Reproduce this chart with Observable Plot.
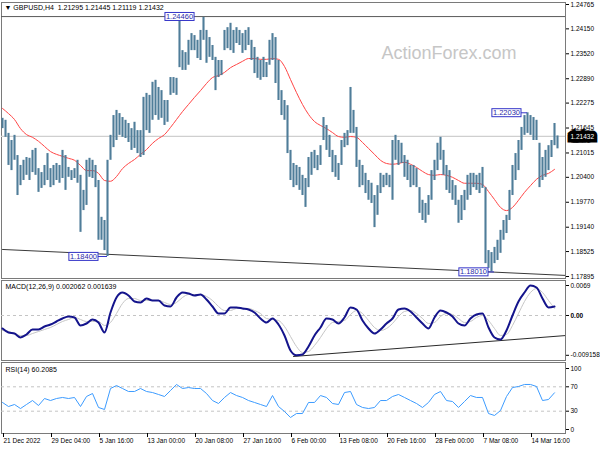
<!DOCTYPE html>
<html><head><meta charset="utf-8">
<script src="https://cdn.jsdelivr.net/npm/d3@7"></script>
<script src="https://cdn.jsdelivr.net/npm/@observablehq/plot@0.6"></script>
<style>
body{margin:0;background:#fff;}
#chart{position:relative;width:600px;height:450px;overflow:hidden;background:#fff;}
#chart svg{position:absolute;left:0;}
</style></head><body><div id="chart"></div>
<script>
// ---- H4 bars (every second bar), high / low ----
const barHigh = [1.2189,1.2184,1.2151,1.2133,1.2146,1.2095,1.2070,1.2083,1.2090,1.2088,
1.2108,1.2113,1.2062,1.2052,1.2070,1.2100,1.2062,1.2070,1.2075,1.2070,
1.2108,1.2095,1.2065,1.2057,1.2062,1.2083,1.2045,1.2007,1.2083,1.2088,
1.2083,1.2070,1.2032,1.1939,1.1931,1.2083,1.2146,1.2196,1.2209,1.2201,
1.2191,1.2184,1.2176,1.2163,1.2179,1.2158,1.2158,1.2242,1.2252,1.2247,
1.2280,1.2285,1.2267,1.2259,1.2234,1.2234,1.2292,1.2292,1.2290,1.2446,
1.2360,1.2355,1.2386,1.2403,1.2398,1.2386,1.2411,1.2444,1.2411,1.2393,
1.2373,1.2343,1.2335,1.2335,1.2411,1.2418,1.2429,1.2411,1.2418,1.2411,
1.2403,1.2411,1.2418,1.2386,1.2368,1.2343,1.2335,1.2343,1.2330,1.2386,
1.2403,1.2393,1.2335,1.2259,1.2234,1.2221,1.2108,1.2075,1.2070,1.2065,
1.2045,1.2037,1.2090,1.2103,1.2108,1.2095,1.2120,1.2191,1.2171,1.2146,
1.2108,1.2095,1.2075,1.2133,1.2151,1.2158,1.2267,1.2209,1.2166,1.2083,
1.2070,1.2050,1.2032,1.2025,1.1994,1.2019,1.2050,1.2045,1.2050,1.2045,
1.2133,1.2146,1.2133,1.2126,1.2095,1.2083,1.2070,1.2070,1.2062,1.2014,
1.1982,1.1974,1.1994,1.2057,1.2083,1.2126,1.2141,1.2108,1.2070,1.2057,
1.2032,1.2019,1.1982,1.1994,1.2007,1.2045,1.2050,1.2050,1.2045,1.2050,
1.2065,1.2014,1.1855,1.1850,1.1863,1.1881,1.1906,1.1931,1.1944,1.2007,
1.2070,1.2100,1.2133,1.2166,1.2196,1.2203,1.2196,1.2191,1.2184,1.2126,
1.2090,1.2108,1.2120,1.2133,1.2176,1.21445];
const barLow = [1.2163,1.2141,1.2070,1.2057,1.2083,1.1994,1.2019,1.2032,1.2045,1.2032,
1.2052,1.2045,1.2002,1.2012,1.2019,1.2032,1.2014,1.2019,1.2032,1.2025,
1.2037,1.2007,1.2040,1.2032,1.2037,1.2025,1.1901,1.1956,1.1969,1.2040,
1.2037,1.2014,1.1881,1.1881,1.1855,1.1840,1.2083,1.2115,1.2133,1.2146,
1.2141,1.2138,1.2128,1.2108,1.2113,1.2100,1.2090,1.2095,1.2158,1.2151,
1.2184,1.2196,1.2184,1.2189,1.2171,1.2179,1.2247,1.2252,1.2247,1.2317,
1.2310,1.2310,1.2323,1.2360,1.2360,1.2340,1.2335,1.2386,1.2328,1.2343,
1.2335,1.2259,1.2292,1.2297,1.2360,1.2365,1.2360,1.2353,1.2378,1.2373,
1.2353,1.2360,1.2373,1.2335,1.2302,1.2290,1.2285,1.2292,1.2292,1.2323,
1.2335,1.2277,1.2234,1.2196,1.2184,1.2100,1.2032,1.2014,1.2019,1.2007,
1.1994,1.1964,1.2014,1.2045,1.2062,1.2057,1.2070,1.2133,1.2108,1.2090,
1.2052,1.2040,1.2032,1.2070,1.2115,1.2120,1.2151,1.2151,1.2065,1.2014,
1.2019,1.1999,1.1982,1.1974,1.1913,1.1944,1.1999,1.2014,1.2019,1.2014,
1.1982,1.2083,1.2070,1.2075,1.2040,1.2032,1.2014,1.2019,1.2014,1.1949,
1.1931,1.1924,1.1944,1.1982,1.2032,1.2057,1.2083,1.2045,1.2007,1.1999,
1.1982,1.1969,1.1924,1.1931,1.1956,1.1982,1.1994,1.2014,1.2007,1.1999,
1.2012,1.1822,1.1810,1.1801,1.1822,1.1830,1.1848,1.1881,1.1898,1.1931,
1.1994,1.2032,1.2057,1.2108,1.2146,1.2151,1.2146,1.2133,1.2133,1.2014,
1.2032,1.2040,1.2057,1.2090,1.2120,1.21119];

// ---- indicators, one value every two plotted bars ----
const maVals = [1.2214,1.2201,1.2186,1.2163,1.2148,1.2141,1.2131,1.2118,1.2105,1.2098,
1.2093,1.2088,1.2083,1.2070,1.2057,1.2057,1.2050,1.2032,1.2030,1.2042,
1.2062,1.2075,1.2085,1.2098,1.2110,1.2126,1.2138,1.2148,1.2166,1.2186,
1.2206,1.2224,1.2242,1.2259,1.2277,1.2292,1.2297,1.2305,1.2317,1.2325,
1.2333,1.2340,1.2340,1.2338,1.2338,1.2340,1.2338,1.2320,1.2287,1.2254,
1.2224,1.2199,1.2181,1.2171,1.2163,1.2153,1.2143,1.2141,1.2143,1.2141,
1.2128,1.2113,1.2098,1.2083,1.2075,1.2073,1.2075,1.2078,1.2073,1.2065,
1.2055,1.2047,1.2045,1.2047,1.2045,1.2040,1.2032,1.2025,1.2025,1.2025,
1.2022,1.2004,1.1984,1.1964,1.1956,1.1964,1.1982,1.2002,1.2019,1.2035,
1.2045,1.2050,1.2060];
const macdVals = [-0.00299,-0.00391,-0.00414,-0.00506,-0.00437,-0.00322,-0.00322,-0.00253,-0.00207,-0.00138,
-0.00069,-0.00023,-0.00046,-0.00230,-0.00184,-0.00092,-0.00161,-0.00391,0.00069,0.00414,
0.00529,0.00460,0.00322,0.00299,0.00391,0.00345,0.00345,0.00230,0.00207,0.00414,
0.00529,0.00506,0.00460,0.00483,0.00368,0.00207,0.00046,0.00046,0.00184,0.00184,
0.00161,0.00138,0.00069,-0.00069,-0.00161,-0.00069,-0.00207,-0.00460,-0.00805,-0.00915,
-0.00897,-0.00713,-0.00460,-0.00276,-0.00069,-0.00092,-0.00184,-0.00046,0.00184,0.00138,
-0.00115,-0.00299,-0.00414,-0.00322,-0.00184,-0.00069,0.00138,0.00161,0.00092,-0.00046,
-0.00184,-0.00299,-0.00046,0.00115,0.00069,-0.00023,-0.00184,-0.00230,-0.00069,0.00023,
0.00046,-0.00276,-0.00506,-0.00552,-0.00345,0,0.00322,0.00529,0.00690,0.00644,
0.00391,0.00184,0.00206];
const signalVals = [-0.00345,-0.00368,-0.00414,-0.00460,-0.00460,-0.00414,-0.00368,-0.00322,-0.00276,-0.00207,
-0.00138,-0.00092,-0.00046,-0.00092,-0.00138,-0.00138,-0.00138,-0.00230,-0.00161,0.00046,
0.00276,0.00391,0.00391,0.00345,0.00345,0.00345,0.00345,0.00299,0.00253,0.00299,
0.00414,0.00483,0.00483,0.00483,0.00437,0.00345,0.00207,0.00115,0.00115,0.00161,
0.00161,0.00161,0.00115,0.00046,-0.00069,-0.00092,-0.00115,-0.00253,-0.00483,-0.00713,
-0.00851,-0.00828,-0.00690,-0.00506,-0.00299,-0.00161,-0.00138,-0.00115,0.00023,0.00115,
0.00046,-0.00115,-0.00276,-0.00345,-0.00299,-0.00184,-0.00023,0.00092,0.00115,0.00046,
-0.00069,-0.00184,-0.00161,-0.00023,0.00046,0.00023,-0.00069,-0.00161,-0.00138,-0.00046,
0,-0.00115,-0.00299,-0.00460,-0.00437,-0.00230,0.00046,0.00322,0.00529,0.00621,
0.00529,0.00345,0.00164];
const rsiVals = [44.3,37.7,41.0,34.4,41.0,47.5,39.3,50.8,47.5,50.8,
52.5,50.8,52.5,37.7,54.1,59.0,36.1,32.8,67.2,72.1,
67.2,62.3,62.3,67.2,62.3,60.6,57.4,54.1,63.9,73.8,
67.2,68.8,67.2,67.2,59.0,47.5,42.6,52.5,60.6,55.7,
52.5,47.5,44.3,41.0,37.7,55.7,37.7,29.5,19.7,26.2,
26.2,44.3,44.3,55.7,52.5,42.6,41.0,60.6,62.3,41.0,
36.1,34.4,36.1,47.5,47.5,54.1,57.4,52.5,47.5,42.6,
36.1,44.3,57.4,62.3,47.5,45.9,36.1,45.9,55.7,52.5,
52.5,26.2,23.0,31.1,54.1,68.8,70.5,73.8,73.8,70.5,
47.5,49.2,60.2];

// ---- axes ----
const xTickIdx = [0,16,32,48,64,80,96,112,128,144,160,176];
const xTickLabels = ["21 Dec 2022","29 Dec 04:00","5 Jan 16:00","13 Jan 00:00","20 Jan 08:00","27 Jan 16:00","6 Feb 00:00","13 Feb 08:00","20 Feb 16:00","28 Feb 00:00","7 Mar 08:00","14 Mar 16:00"];
const priceTicks = [1.24765,1.24150,1.23520,1.22890,1.22275,1.21645,1.21015,1.20400,1.19770,1.19140,1.18525,1.17895];
const macdTicks = [0.0069,0,-0.009158];
const macdTickLabels = ["0.0069","0.00","-0.009158"];
const rsiTicks = [100,70,30,0];
const rsiLevels = [70,30];

// ---- annotations ----
const titleText = "\u25BC GBPUSD,H4\u00a0\u00a01.21295 1.21445 1.21119 1.21432";
const macdTitle = "MACD(12,26,9) 0.002062 0.001639";
const rsiTitle = "RSI(14) 60.2085";
const watermark = "ActionForex.com";
const lastPrice = 1.21432;
const hLevel = 1.2446;
const peakLabels = [
  {text:"1.24460", price:1.2446, bar:59, at:59},
  {text:"1.18400", price:1.1840, bar:35, at:32},
  {text:"1.22030", price:1.2203, bar:175, at:173},
  {text:"1.18010", price:1.1801, bar:164, at:162}
];
const trendMain = [{i:0, p:1.18578},{i:188, p:1.17921}];
const trendMacd = [{i:97, v:-0.00943},{i:188, v:-0.0046}];

// ---- build tables ----
const bars = barHigh.map((h,i)=>({i, hi:h, lo:barLow[i]}));
const ind = maVals.map((v,k)=>({i:2*k, ma:v, macd:macdVals[k], sig:signalVals[k], rsi:rsiVals[k]}));

const FONT = "'Liberation Sans', Arial, sans-serif";
const baseStyle = {fontFamily: FONT, fontSize: "6.5px", color: "#000", background: "transparent", overflow: "visible"};
const xScale = {domain: [-1/3, 187 + 2/3]};
const common = {width: 600, marginLeft: 1, marginRight: 35, style: baseStyle};

const main = Plot.plot({
  ...common, height: 279, marginTop: 2, marginBottom: 1,
  x: {...xScale, axis: null},
  y: {domain: [1.17895, 1.24765], range: [276, 4]},
  marks: [
    Plot.frame({stroke: "#7a7a7a"}),
    Plot.ruleY([lastPrice], {stroke: "#cfcfcf", strokeWidth: 1.3}),
    Plot.ruleY([hLevel], {stroke: "#5a5a5a", strokeWidth: 1}),
    Plot.line(trendMain, {x: "i", y: "p", stroke: "#3a3a3a", strokeWidth: 1, clip: true}),
    Plot.text([watermark], {text: d => d, frameAnchor: "top-left", dx: 380, dy: 44, textAnchor: "start", lineAnchor: "top", fontSize: 18, fill: "#c6c6c6"}),
    Plot.line(ind, {x: "i", y: "ma", stroke: "#ff4545", strokeWidth: 1, curve: "monotone-x"}),
    Plot.ruleX(bars, {x: "i", y1: "lo", y2: "hi", stroke: "#4f7d99", strokeWidth: 2.1}),
    Plot.ruleY(peakLabels.filter(d => d.at !== d.bar), {y: "price", x1: "at", x2: "bar", stroke: "#3535c8", strokeWidth: 1}),
    Plot.text(peakLabels.filter(d => d.at === d.bar), {x: "at", y: "price", text: "text", textAnchor: "middle", fontSize: 7.5, fill: "#2a2aa8"}),
    Plot.text(peakLabels.filter(d => d.at !== d.bar), {x: "at", y: "price", text: "text", textAnchor: "end", dx: -1.5, fontSize: 7.5, fill: "#2a2aa8"}),
    Plot.axisY({anchor: "right", ticks: priceTicks, tickSize: 3, tickPadding: 2, tickFormat: d3.format(".5f"), label: null}),
    Plot.text([lastPrice], {y: d => d, frameAnchor: "right", dx: 5, textAnchor: "start", text: d => d.toFixed(5), fill: "white", stroke: "black", strokeWidth: 7, strokeLinejoin: "miter", paintOrder: "stroke"}),
    Plot.text([titleText], {text: d => d, frameAnchor: "top-left", dx: 3, dy: 3, textAnchor: "start", lineAnchor: "top", fontSize: 7})
  ]
});

const macdPlot = Plot.plot({
  ...common, height: 82, marginTop: 1, marginBottom: 1,
  x: {...xScale, axis: null},
  y: {domain: [-0.009158, 0.0069], range: [75.8, 6]},
  marks: [
    Plot.frame({stroke: "#7a7a7a"}),
    Plot.ruleY([0], {stroke: "#c4c4c4", strokeDasharray: "3,3"}),
    Plot.line(trendMacd, {x: "i", y: "v", stroke: "#2a2a2a", strokeWidth: 1, clip: true}),
    Plot.line(ind, {x: "i", y: "sig", stroke: "#c6c6c6", strokeWidth: 1, curve: "monotone-x"}),
    Plot.line(ind, {x: "i", y: "macd", stroke: "#14148c", strokeWidth: 2, curve: "monotone-x"}),
    Plot.axisY({anchor: "right", ticks: macdTicks, tickSize: 3, tickPadding: 2, tickFormat: d => macdTickLabels[macdTicks.indexOf(d)], label: null}),
    Plot.text([macdTitle], {text: d => d, frameAnchor: "top-left", dx: 4, dy: 3.5, textAnchor: "start", lineAnchor: "top", fontSize: 7})
  ]
});

const rsiPlot = Plot.plot({
  ...common, height: 89, marginTop: 1, marginBottom: 17,
  x: xScale,
  y: {domain: [0, 100], range: [68, 7]},
  marks: [
    Plot.frame({stroke: "#7a7a7a"}),
    Plot.ruleY(rsiLevels, {stroke: "#c4c4c4", strokeDasharray: "3,3"}),
    Plot.line(ind, {x: "i", y: "rsi", stroke: "#3d9cff", strokeWidth: 1}),
    Plot.axisY({anchor: "right", ticks: rsiTicks, tickSize: 3, tickPadding: 2, tickFormat: d => String(d), label: null}),
    Plot.axisX({anchor: "bottom", ticks: xTickIdx, tickSize: 4, tickPadding: 1, textAnchor: "start", dx: 1, tickFormat: d => xTickLabels[xTickIdx.indexOf(d)], label: null}),
    Plot.text([rsiTitle], {text: d => d, frameAnchor: "top-left", dx: 4, dy: 4.5, textAnchor: "start", lineAnchor: "top", fontSize: 7})
  ]
});

const root = document.getElementById("chart");
[[main, 0], [macdPlot, 279], [rsiPlot, 361]].forEach(([svg, top]) => {
  svg.style.top = top + "px";
  root.appendChild(svg);
});

// draw boxes behind the MT4-style price labels
function boxText(svg, texts, fill, stroke, padX, padY) {
  svg.querySelectorAll("text").forEach(t => {
    if (!texts.includes(t.textContent)) return;
    const b = t.getBBox();
    const r = document.createElementNS("http://www.w3.org/2000/svg", "rect");
    r.setAttribute("x", b.x - padX);
    r.setAttribute("y", b.y - padY);
    r.setAttribute("width", b.width + 2 * padX);
    r.setAttribute("height", b.height + 2 * padY);
    r.setAttribute("fill", fill);
    r.setAttribute("stroke", stroke);
    r.setAttribute("stroke-width", 1);
    if (t.getAttribute("transform")) r.setAttribute("transform", t.getAttribute("transform"));
    t.parentNode.insertBefore(r, t);
  });
}
boxText(main, peakLabels.map(d => d.text), "white", "#3535c8", 1, -0.5);
// the "0.00" MACD label appears doubled (bold) in the reference
macdPlot.querySelectorAll("text").forEach(t => { if (t.textContent === "0.00") t.setAttribute("font-weight", "bold"); });
</script></body></html>
